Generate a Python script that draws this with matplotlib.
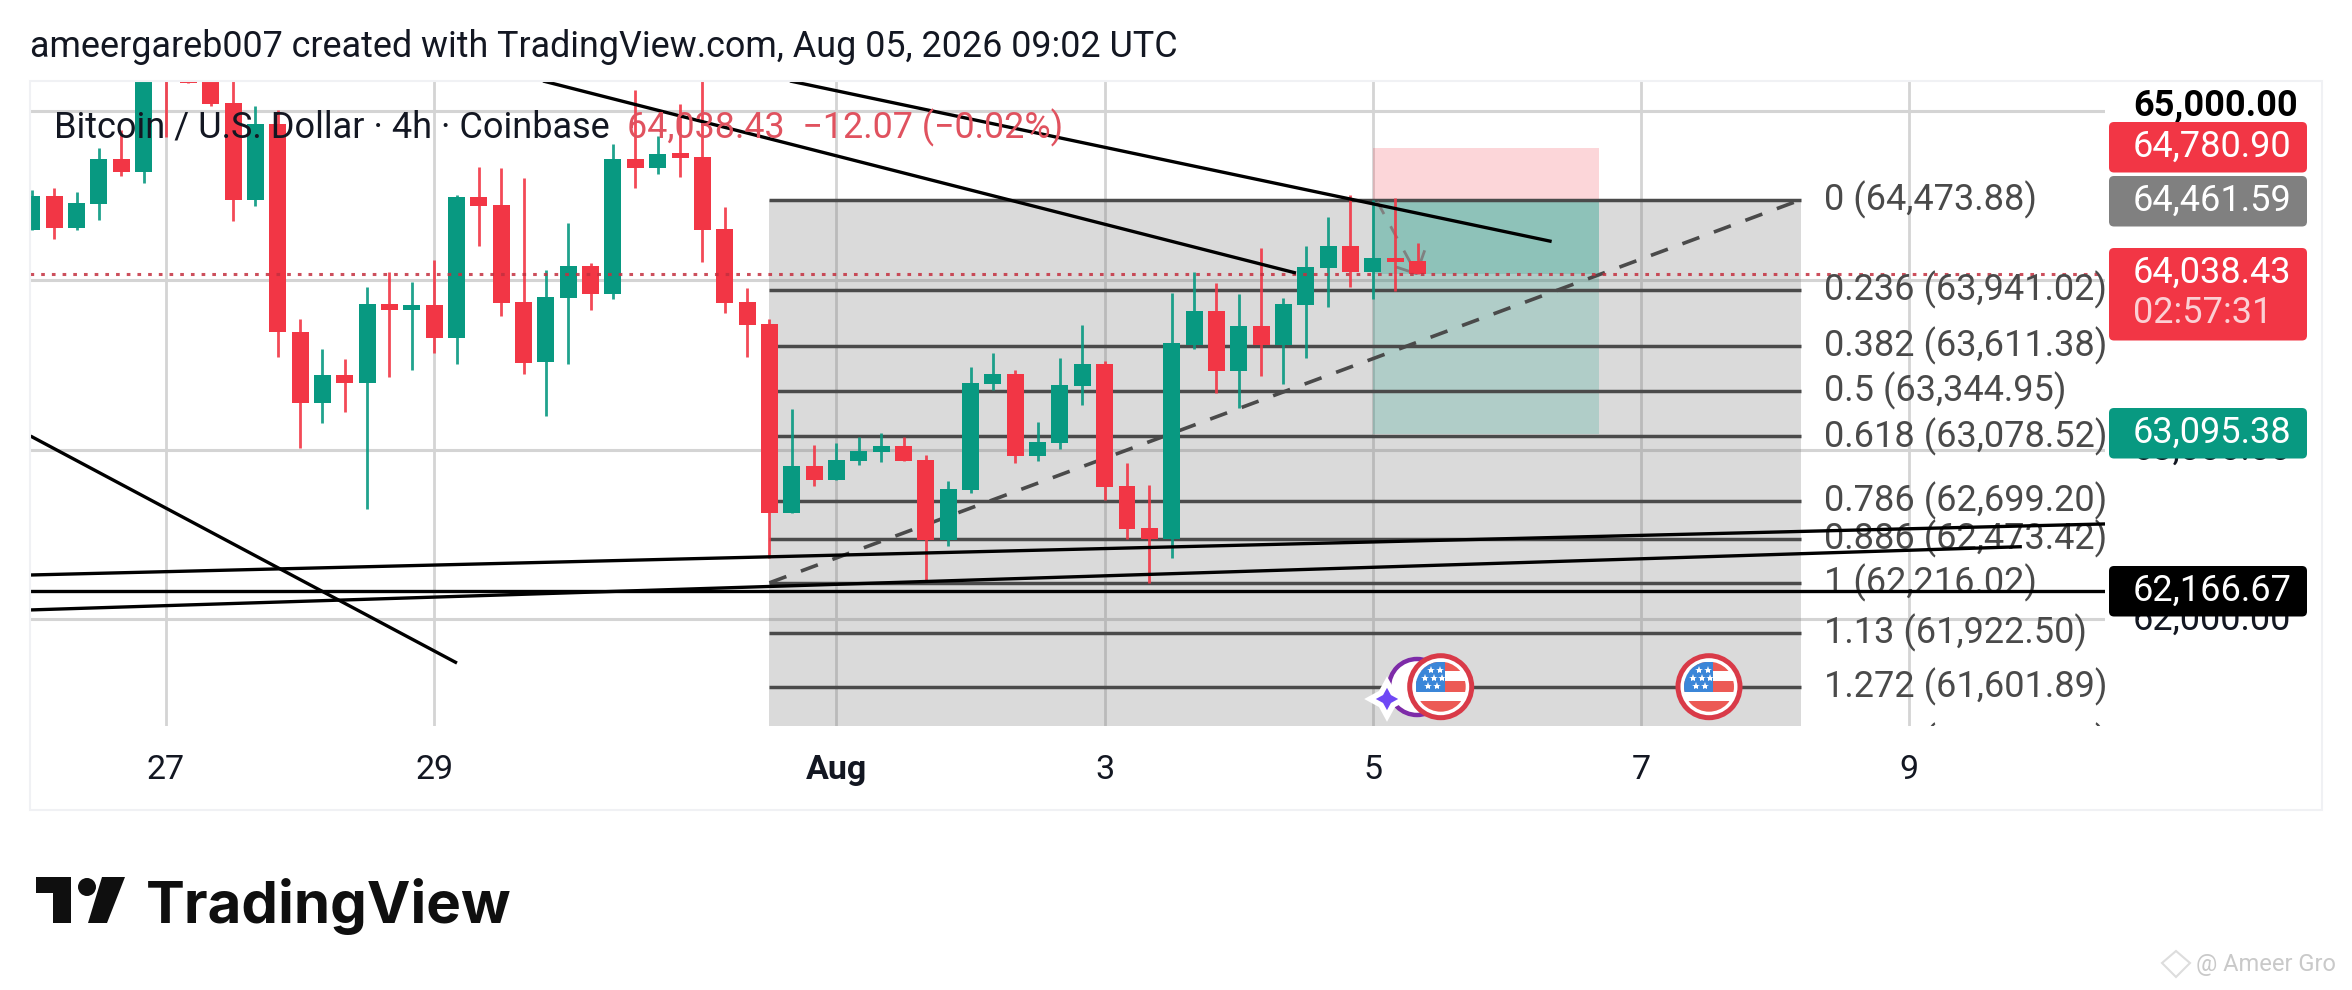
import matplotlib
matplotlib.use('Agg')
import matplotlib.pyplot as plt
from matplotlib.patches import Rectangle, FancyBboxPatch, Circle, Polygon
from matplotlib.transforms import IdentityTransform

plt.rcParams['font.family'] = ['Roboto', 'DejaVu Sans']

W, H = 2352, 990
RED = '#f23645'
GREEN = '#089981'
GRID = '#d4d4d4'
FIBC = '#4a4a4a'

# 4h candles, bar 0 sits on the "27" tick
first_bar = -6
opens = [64298, 64496, 64309, 64451, 64714, 64640, 65450, 65185, 65250, 65042, 64473, 64920, 63694, 63278, 63441,
         63396, 63859, 63824, 63854, 63661, 64490, 64443, 63871, 63520, 63895, 64083, 63918, 64714, 64663, 64747,
         64724, 64300, 63869, 63742, 62626, 62905, 62822, 62936, 62987, 63023, 62940, 62468, 62763, 63388, 63447,
         62963, 63042, 63376, 63506, 62787, 62539, 62476, 63618, 63818, 63467, 63730, 63618, 63854, 64072, 64201,
         64048, 64131, 64111]
closes = [64496, 64309, 64453, 64714, 64640, 65300, 65250, 65165, 65038, 64473, 64920, 63694, 63278, 63441, 63396,
          63859, 63824, 63854, 63661, 64490, 64437, 63867, 63514, 63901, 64083, 63918, 64714, 64663, 64742, 64720,
          64298, 63867, 63736, 62626, 62905, 62822, 62940, 62991, 63023, 62936, 62468, 62769, 63394, 63447, 62963,
          63046, 63382, 63506, 62783, 62535, 62476, 63628, 63818, 63467, 63730, 63618, 63859, 64078, 64201, 64048,
          64131, 64107, 64038.43]
highs = [64531, 64541, 64518, 64777, 64885, 65400, 65600, 65300, 65300, 65300, 65027, 65003, 63769, 63594, 63535,
         63960, 64046, 63989, 64119, 64500, 64667, 64661, 64602, 64060, 64337, 64101, 64803, 65121, 64850, 65038,
         65250, 64431, 63954, 63769, 63239, 63028, 63040, 63078, 63097, 63074, 62968, 62816, 63488, 63571, 63470,
         63164, 63541, 63736, 63523, 62922, 62793, 63924, 64048, 63981, 63918, 64190, 63895, 64201, 64372, 64500,
         64472, 64482, 64219]
lows = [64298, 64241, 64298, 64357, 64616, 64575, 64846, 65165, 65027, 64351, 64437, 63549, 63013, 63160, 63225,
        62653, 63431, 63470, 63571, 63506, 64203, 63791, 63447, 63201, 63508, 63824, 63889, 64543, 64626, 64610,
        64109, 63808, 63549, 62364, 62626, 62789, 62822, 62912, 62930, 62936, 62219, 62435, 62747, 63353, 62924,
        62936, 63007, 63264, 62704, 62472, 62217, 62364, 63594, 63337, 63246, 63435, 63388, 63541, 63842, 63960,
        63889, 63936, 64038.43]

# fib retracement
fib_ratios = ['0', '0.236', '0.382', '0.5', '0.618', '0.786', '0.886', '1', '1.13', '1.272', '1.414']
fib_prices = [64473.88, 63941.02, 63611.38, 63344.95, 63078.52, 62699.20, 62473.42, 62216.02, 61922.50, 61601.89, 61281.27]
fib_start, fib_end = 27, 73.15

# trend lines: (bar, price) pairs
trend_x = [[27.92, 62.0], [16.87, 50.56], [-6.06, 13.02], [-6.09, 86.76], [-6.09, 83.04], [-6.09, 86.76]]
trend_y = [[65174, 64228], [65174, 64042], [63081, 61743], [62262, 62563], [62056, 62429], [62166.67, 62166.67]]

# short position tool
pos_start, pos_end = 54, 64.1
stop_price, entry_price, target_price = 64780.90, 64461.59, 63095.38
last_price = 64038.43
arrow_x = [55.1, 55.95, 56.3]
arrow_y = [64075, 64038, 64168]

day_ticks = ['27', '29', 'Aug', '3', '5', '7', '9']
day_bars = [0, 12, 30, 42, 54, 66, 78]
grid_prices = [65000, 64000, 63000, 62000]
grid_labels = ['65,000.00', '64,000.00', '63,000.00', '62,000.00']

# price scale tags
label_texts = ['64,780.90', '64,461.59', '64,038.43', '63,095.38', '62,166.67']
label_tops = [122, 176, 248, 408, 566]
label_bottoms = [172.5, 226.5, 340.5, 458.5, 616.5]
label_cols = [RED, '#808080', RED, GREEN, 'black']

xlim = (-6.085, 86.76)
ylim = (61372, 65173.9)

fig = plt.figure(figsize=(W / 100, H / 100), dpi=100, facecolor='white')
ax = fig.add_axes([30 / W, 1 - 726 / H, (2105 - 30) / W, (726 - 81) / H])
ax.set_xlim(xlim)
ax.set_ylim(ylim)
ax.axis('off')
PX = IdentityTransform()


def px(pts):
    # pixel points with y from the top
    return [(x, H - y) for x, y in pts]


fig.add_artist(Rectangle((30, H - 810), 2292, 729, transform=PX, facecolor='none', edgecolor='#f0f1f4', linewidth=1.5))

for b in day_bars:
    ax.axvline(b, color=GRID, lw=2, zorder=1)
for p in grid_prices:
    ax.axhline(p, color=GRID, lw=2.2, zorder=1)

# fib box
ax.add_patch(Rectangle((fib_start, ylim[0]), fib_end - fib_start, fib_prices[0] - ylim[0],
                       facecolor='#7a7a7a', alpha=0.28, lw=0, zorder=2))
ax.hlines(fib_prices, fib_start, fib_end, color=FIBC, lw=2.5, zorder=3)
ax.plot([fib_start, fib_end], [fib_prices[7], fib_prices[0]], color=FIBC, lw=2.6, dashes=(5, 4.3), zorder=3)
for r, p in zip(fib_ratios, fib_prices):
    ax.text(74.2, p, '%s (%s)' % (r, format(p, ',.2f')), fontsize=26, color=FIBC, va='center', ha='left',
            zorder=5.2, clip_on=True)

# position boxes
ax.add_patch(Rectangle((pos_start, entry_price), pos_end - pos_start, stop_price - entry_price,
                       facecolor=RED, alpha=0.2, lw=0, zorder=2))
ax.add_patch(Rectangle((pos_start, target_price), pos_end - pos_start, entry_price - target_price,
                       facecolor=GREEN, alpha=0.2, lw=0, zorder=2))
ax.add_patch(Rectangle((pos_start, last_price), pos_end - pos_start, entry_price - last_price,
                       facecolor=GREEN, alpha=0.2, lw=0, zorder=2))

# candles
bars = [first_bar + i for i in range(len(opens))]
for b, o, c, h, l in zip(bars, opens, closes, highs, lows):
    col = GREEN if c >= o else RED
    ax.vlines(b, l, h, color=col, lw=2.0, alpha=0.9, zorder=4)
    ax.bar(b, abs(c - o), bottom=min(o, c), width=0.76, color=col, lw=0, zorder=4)

# entry to last price path
ax.plot([54.2, 55.95], [entry_price, last_price], color='#808080', lw=2, dashes=(5, 5), zorder=3.5)
ax.plot(arrow_x, arrow_y, color='#808080', lw=2, zorder=3.5)

ax.axhline(last_price, color='#c4303f', lw=2.2, dashes=(1.2, 2.3), alpha=0.85, zorder=5)

for tx, ty in zip(trend_x, trend_y):
    ax.plot(tx, ty, color='black', lw=2.4, zorder=5.5, solid_capstyle='butt')


def flag(cx, cy):
    # US flag event marker, pixel centre
    y = H - cy
    ax.add_artist(Circle((cx, y), 31, transform=PX, facecolor='white', edgecolor='#d93a48', lw=3.6, zorder=7))
    disc = Circle((cx, y), 25, transform=PX)
    parts = [Rectangle((cx - 25, y + 16), 50, 9, transform=PX, facecolor='#ec5a55', lw=0),
             Rectangle((cx - 25, y - 5), 50, 11, transform=PX, facecolor='#ec5a55', lw=0),
             Rectangle((cx - 25, y - 25), 50, 11, transform=PX, facecolor='#ec5a55', lw=0),
             Rectangle((cx - 25, y - 5), 29, 30, transform=PX, facecolor='#3b86d8', lw=0)]
    for part in parts:
        ax.add_artist(part)
        part.set_zorder(7.1)
        part.set_clip_path(disc)
    for sx, sy in [(-10, 17), (-1, 17), (-16, 9), (-7, 9), (1, 9), (-13, 1), (-4, 1)]:
        ax.plot([cx + sx], [y + sy], marker='*', ms=6, color='white', mew=0, transform=PX, zorder=7.2, clip_on=False)


# event markers
ax.add_artist(Circle((1417, H - 687), 28, transform=PX, facecolor='white', edgecolor='#7d2ba8', lw=3.2, zorder=6.5))
star = [(1387, 682), (1393, 693), (1404, 699), (1393, 705), (1387, 716), (1381, 705), (1370, 699), (1381, 693)]
ax.add_artist(Polygon(px(star), closed=True, transform=PX, facecolor='#6f48f5', edgecolor='white', lw=4, zorder=6.8))
flag(1440.7, 686.7)
flag(1709, 686.7)

# header and legend line
fig.text(30, H - 47, 'ameergareb007 created with TradingView.com, Aug 05, 2026 09:02 UTC', transform=PX, fontsize=25.85,
         color='#131722', va='center')
fig.text(54, H - 128, 'Bitcoin / U.S. Dollar · 4h · Coinbase', transform=PX, fontsize=26, color='#131722', va='center',
         zorder=9)
fig.text(627, H - 128, '64,038.43  −12.07 (−0.02%)', transform=PX, fontsize=25.8, color='#e0525f', va='center', zorder=9)

# price scale
fig.text(2133, H - 106, grid_labels[0], transform=PX, fontsize=26, fontweight='bold', color='black', va='center', zorder=3)
for lab, p in zip(grid_labels[2:], grid_prices[2:]):
    yp = ax.transData.transform((0, p))[1]
    fig.text(2133, yp, lab, transform=PX, fontsize=26, color='#131722', va='center', zorder=3)

for txt, top, bot, col in zip(label_texts, label_tops, label_bottoms, label_cols):
    fig.add_artist(FancyBboxPatch((2112, H - bot + 3), 192, bot - top - 6, boxstyle='round,pad=3,rounding_size=5',
                                  transform=PX, facecolor=col, edgecolor='none', zorder=5))
    fig.text(2133, H - (top + 25), txt, transform=PX, fontsize=26, color='white', va='center', zorder=6)
fig.text(2133, H - 313, '02:57:31', transform=PX, fontsize=26, color='#fbd0d4', va='center', zorder=6)

# date axis
for lab, b in zip(day_ticks, day_bars):
    xp = ax.transData.transform((b, 0))[0]
    fig.text(xp, H - 770, lab, transform=PX, fontsize=24.5, color='#131722', ha='center', va='center',
             fontweight='bold' if lab == 'Aug' else 'normal')

# logo
logo_col = '#0f0f0f'
fig.add_artist(Polygon(px([(36, 877), (71, 877), (71, 923), (53, 923), (53, 893), (36, 893)]), closed=True,
                       transform=PX, facecolor=logo_col, lw=0))
fig.add_artist(Circle((87, H - 887), 9, transform=PX, facecolor=logo_col, lw=0))
fig.add_artist(Polygon(px([(102, 877), (125, 877), (107, 923), (88, 923)]), closed=True, transform=PX,
                       facecolor=logo_col, lw=0))
fig.text(146, H - 923, 'TradingView', transform=PX, family=['Inter', 'DejaVu Sans'], fontsize=42, fontweight='bold',
         color=logo_col, va='baseline')

# watermark
fig.add_artist(Polygon(px([(2176, 951), (2190, 963), (2176, 977), (2162, 963)]), closed=True, transform=PX,
                       facecolor='none', edgecolor='#dddddd', lw=1.5))
fig.text(2196, H - 964, '@ Ameer Gro', transform=PX, fontsize=17, color='#c9c9c9', va='center')

fig.savefig('out.png', dpi=100)
